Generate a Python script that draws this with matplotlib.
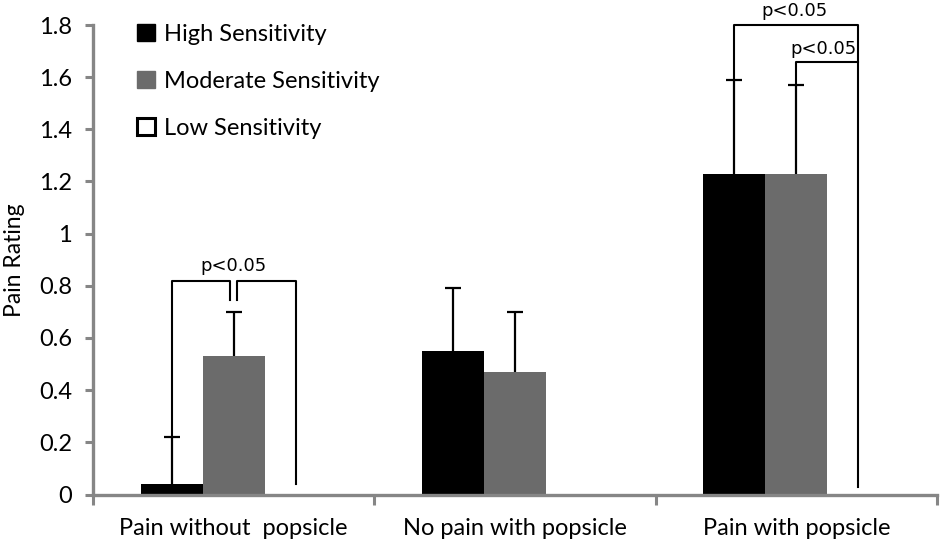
import matplotlib
matplotlib.use("Agg")
import matplotlib.pyplot as plt
from matplotlib.patches import Patch
import numpy as np

categories = ["Pain without  popsicle", "No pain with popsicle", "Pain with popsicle"]
series = ["High Sensitivity", "Moderate Sensitivity", "Low Sensitivity"]
high = [0.04, 0.55, 1.23]
high_err = [0.18, 0.24, 0.36]
moderate = [0.53, 0.47, 1.23]
moderate_err = [0.17, 0.23, 0.34]
low = [0.0, 0.0, 0.0]
yticks = [0, 0.2, 0.4, 0.6, 0.8, 1, 1.2, 1.4, 1.6, 1.8]
ytick_labels = ["0", "0.2", "0.4", "0.6", "0.8", "1", "1.2", "1.4", "1.6", "1.8"]

plt.rcParams['font.family'] = ['Lato', 'DejaVu Sans']

fig = plt.figure(figsize=(9.45, 5.48), dpi=100)
W, H = 945, 548
ax = fig.add_axes([93 / W, (548 - 494.5) / H, (937 - 93) / W, (494.5 - 25) / H])

x = np.arange(len(categories))
bw = 0.22
axis_col = "#868686"

ax.bar(x - bw, high, bw, color="black", linewidth=0, label=series[0], zorder=2)
ax.bar(x, moderate, bw, color="#6b6b6b", linewidth=0, label=series[1], zorder=2)
ax.bar(x + bw, low, bw, color="white", edgecolor="black", linewidth=0, label=series[2], zorder=2)


def up_errorbar(xs, vals, errs):
    tops = np.array(vals) + np.array(errs)
    ax.vlines(xs, vals, tops, colors="black", lw=1.6, zorder=3)
    ax.plot(xs, tops, linestyle="none", marker="_", markersize=12, markeredgewidth=1.6,
            color="black", zorder=3)


up_errorbar(x - bw, high, high_err)
up_errorbar(x, moderate, moderate_err)

lw = 1.5
# Group 1 brackets
g = 0
ax.plot([g - bw, g - bw, g - 0.012, g - 0.012], [high[g] + high_err[g], 0.82, 0.82, 0.746],
        color="black", lw=lw, zorder=3)
ax.plot([g + 0.012, g + 0.012, g + bw, g + bw], [0.746, 0.82, 0.82, 0.04],
        color="black", lw=lw, zorder=3)
ax.text(g, 0.84, "p<0.05", ha="center", va="bottom", fontsize=13, family="DejaVu Sans")

# Group 3 brackets
g = 2
ax.plot([g - bw, g - bw, g + bw, g + bw], [high[g] + high_err[g], 1.8, 1.8, 0.03],
        color="black", lw=lw, zorder=3, clip_on=False)
ax.plot([g, g, g + bw], [moderate[g] + moderate_err[g], 1.657, 1.657],
        color="black", lw=lw, zorder=3)
ax.text(g - 0.005, 1.82, "p<0.05", ha="center", va="bottom", fontsize=13, family="DejaVu Sans")
ax.text(g + 0.095, 1.675, "p<0.05", ha="center", va="bottom", fontsize=13, family="DejaVu Sans")

ax.set_xlim(-0.5, 2.5)
ax.set_ylim(0, 1.8)
ax.set_yticks(yticks)
ax.set_yticklabels(ytick_labels, fontsize=17)
ax.set_xticks([-0.5, 0.5, 1.5, 2.5])
ax.set_xticklabels([])
ax.set_xticks(x, minor=True)
ax.set_xticklabels(categories, minor=True, fontsize=17)
ax.tick_params(axis="x", which="minor", length=0, pad=17)
ax.tick_params(axis="x", which="major", length=7, width=2.2, color=axis_col, direction="out")
ax.tick_params(axis="y", length=6, width=2.2, color=axis_col, direction="out", pad=9)

for s in ["top", "right"]:
    ax.spines[s].set_visible(False)
for s in ["left", "bottom"]:
    ax.spines[s].set_color(axis_col)
    ax.spines[s].set_linewidth(2.4)

ax.set_ylabel("Pain Rating", fontsize=16.5)
ax.yaxis.set_label_coords((25 - 93) / 844, 0.5)

handles = [Patch(facecolor="black", edgecolor="black"),
           Patch(facecolor="#6b6b6b", edgecolor="#6b6b6b"),
           Patch(facecolor="white", edgecolor="black", linewidth=2.2)]
leg = ax.legend(handles, series, loc="upper left", bbox_to_anchor=(137 / W, 1 - 24 / H),
                bbox_transform=fig.transFigure, frameon=False, fontsize=17,
                handlelength=0.75, handleheight=0.75, handletextpad=0.4, labelspacing=1.1,
                borderaxespad=0, borderpad=0)

fig.savefig("out.png", dpi=100)
